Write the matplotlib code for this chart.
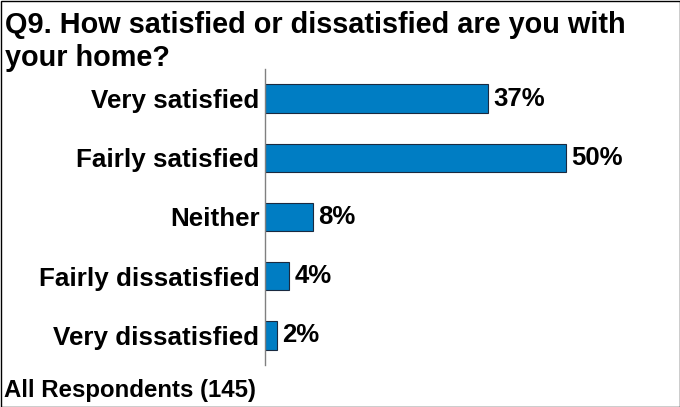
import matplotlib
matplotlib.use("Agg")
import matplotlib.pyplot as plt
from matplotlib.patches import Rectangle

categories = ["Very satisfied", "Fairly satisfied", "Neither", "Fairly dissatisfied", "Very dissatisfied"]
values = [37, 50, 8, 4, 2]
value_labels = ["37%", "50%", "8%", "4%", "2%"]
title_lines = ["Q9. How satisfied or dissatisfied are you with", "your home?"]
footer = "All Respondents (145)"

plt.rcParams['font.family'] = ['Liberation Sans', 'DejaVu Sans']

fig = plt.figure(figsize=(6.8, 4.07), dpi=100)
ax = fig.add_axes([265/680, 1-365/407, 361/680, (365-69)/407])

y = list(range(len(categories)))
ax.barh(y, values, height=0.48, color="#007DC3", edgecolor="#1a2a40", linewidth=0.8)
ax.set_ylim(len(categories)-0.5, -0.5)
ax.set_xlim(0, 60)
ax.set_yticks(y)
ax.set_yticklabels(categories, fontsize=18.7, fontweight='bold')
ax.tick_params(axis='y', length=0, pad=4)
ax.set_xticks([])
for s in ['top', 'right', 'bottom']:
    ax.spines[s].set_visible(False)
ax.spines['left'].set_color('#808080')
ax.spines['left'].set_linewidth(1.0)

for yi, v, lab in zip(y, values, value_labels):
    ax.text(v + 0.9, yi, lab, va='center', ha='left', fontsize=18.5, fontweight='bold')

for i, line in enumerate(title_lines):
    fig.text(5/680, 1-(33 + 33*i)/407, line, ha='left', va='baseline',
             fontsize=20.8, fontweight='bold')
fig.text(4/680, 1-397/407, footer, ha='left', va='baseline',
         fontsize=17.3, fontweight='bold')

fig.patches.append(Rectangle((0.5/680, 0.5/407), 1-1/680, 1-1/407, transform=fig.transFigure,
                             fill=False, edgecolor='black', linewidth=1.0))

fig.savefig("out.png", dpi=100)
